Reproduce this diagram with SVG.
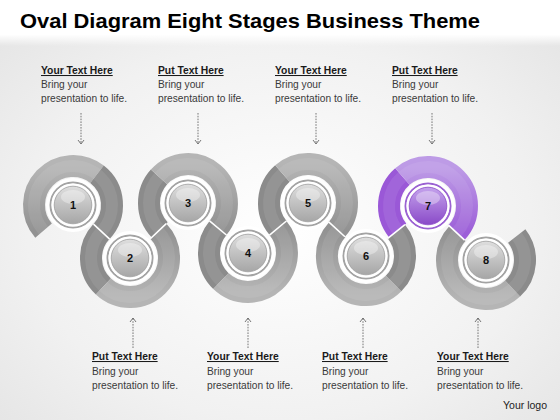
<svg xmlns="http://www.w3.org/2000/svg" width="560" height="420" viewBox="0 0 560 420">
<defs>
<radialGradient id="bg" cx="0.5" cy="0.55" r="0.75">
<stop offset="0" stop-color="#ffffff"/>
<stop offset="0.6" stop-color="#f1f1f1"/>
<stop offset="1" stop-color="#e2e2e2"/>
</radialGradient>
<linearGradient id="topband" x1="0" y1="0" x2="0" y2="1">
<stop offset="0" stop-color="#ffffff"/>
<stop offset="0.75" stop-color="#ffffff"/>
<stop offset="1" stop-color="#ffffff" stop-opacity="0"/>
</linearGradient>
<linearGradient id="lightUp" x1="0" y1="0" x2="0" y2="1">
<stop offset="0" stop-color="#b5b5b5"/>
<stop offset="1" stop-color="#929292"/>
</linearGradient>
<linearGradient id="lightDown" x1="0" y1="1" x2="0" y2="0">
<stop offset="0" stop-color="#b5b5b5"/>
<stop offset="1" stop-color="#929292"/>
</linearGradient>
<linearGradient id="purpUp" x1="0" y1="0" x2="0" y2="1">
<stop offset="0" stop-color="#bd9be6"/>
<stop offset="1" stop-color="#9c5fd8"/>
</linearGradient>
<linearGradient id="btn" x1="0" y1="0" x2="0" y2="1">
<stop offset="0" stop-color="#dedede"/>
<stop offset="1" stop-color="#a6a6a6"/>
</linearGradient>
<linearGradient id="btnP" x1="0" y1="0" x2="0" y2="1">
<stop offset="0" stop-color="#c4a2ec"/>
<stop offset="1" stop-color="#8a4ac8"/>
</linearGradient>
<marker id="ah" viewBox="-5 -4 6 8" refX="0" refY="0" markerWidth="6" markerHeight="8" markerUnits="userSpaceOnUse" orient="auto">
<path d="M-4,-3 L0,0 L-4,3" fill="none" stroke="#555" stroke-width="0.8"/>
</marker>
</defs>
<style>
.seg{fill:none;stroke-width:22;stroke-linecap:butt}
.dark{stroke:#8b8b8b}
.lu{stroke:url(#lightUp)}
.ld{stroke:url(#lightDown)}
.pd{stroke:#9a58d7}
.pl{stroke:url(#purpUp)}
.hl{fill:none;stroke:#ffffff;stroke-opacity:0.08;stroke-width:12}
.jn{stroke:#ffffff;stroke-width:1.6}
.gap{fill:#ffffff}
.rim{fill:none;stroke:#a3a3a3;stroke-width:2}
.rimP{fill:none;stroke:#9b62d2;stroke-width:2}
.wr{fill:none;stroke:#ffffff;stroke-width:2}
.disc{fill:url(#btn);stroke:#9d9d9d;stroke-width:0.8}
.discP{fill:url(#btnP);stroke:#8a4ac8;stroke-width:0.8}
.shine{fill:#ffffff;opacity:0.35}
.num{font-family:"Liberation Sans",Arial,sans-serif;font-weight:bold;font-size:11px;fill:#111;text-anchor:middle}
.ttl{font-family:"Liberation Sans",Arial,sans-serif;font-weight:bold;font-size:10.3px;fill:#1a1a1a;text-decoration:underline}
.body{font-family:"Liberation Sans",Arial,sans-serif;font-size:10.2px;fill:#3a3a3a}
.arr{fill:none;stroke:#555;stroke-width:0.8;stroke-dasharray:1.6 1.2}
</style>
<rect x="0" y="0" width="560" height="420" fill="url(#bg)"/>
<rect x="0" y="0" width="560" height="46" fill="url(#topband)"/>
<text x="20" y="28" font-family="'Liberation Sans',Arial,sans-serif" font-weight="bold" font-size="21" fill="#000" textLength="460" lengthAdjust="spacingAndGlyphs">Oval Diagram Eight Stages Business Theme</text>

<g id="connectors">
<path class="arr" d="M81,113 V144" marker-end="url(#ah)"/>
<path class="arr" d="M198,113 V144" marker-end="url(#ah)"/>
<path class="arr" d="M316,113 V144" marker-end="url(#ah)"/>
<path class="arr" d="M432,113 V144" marker-end="url(#ah)"/>
<path class="arr" d="M133,348 V318" marker-end="url(#ah)"/>
<path class="arr" d="M248,348 V318" marker-end="url(#ah)"/>
<path class="arr" d="M363,348 V318" marker-end="url(#ah)"/>
<path class="arr" d="M478,348 V318" marker-end="url(#ah)"/>
</g>

<g id="rings">
<path class="seg lu" d="M43.57,230.59 A39,39 0 0 1 97.01,174.27"/>
<path class="seg dark" d="M97.01,174.27 A39,39 0 0 1 101.57,231.55"/>
<path class="seg dark" d="M101.43,231.45 A39,39 0 0 0 103.40,286.52"/>
<path class="seg ld" d="M103.40,286.52 A39,39 0 0 0 158.29,231.15"/>
<path class="seg dark" d="M159.71,229.85 A39,39 0 0 1 159.02,176.90"/>
<path class="seg lu" d="M159.02,176.90 A39,39 0 0 1 217.96,227.96"/>
<path class="seg dark" d="M218.04,228.04 A39,39 0 0 0 220.91,281.05"/>
<path class="seg ld" d="M220.91,281.05 A39,39 0 0 0 277.96,228.04"/>
<path class="seg dark" d="M278.04,227.96 A39,39 0 0 1 282.41,173.57"/>
<path class="seg lu" d="M282.41,173.57 A39,39 0 0 1 336.80,229.30"/>
<path class="seg ld" d="M337.20,229.70 A39,39 0 0 0 393.58,283.58"/>
<path class="seg dark" d="M393.58,283.58 A39,39 0 0 0 396.35,231.51"/>
<path class="seg pd" d="M397.65,230.49 A39,39 0 0 1 402.41,176.57"/>
<path class="seg pl" d="M402.41,176.57 A39,39 0 0 1 456.52,232.60"/>
<path class="seg ld" d="M457.48,233.40 A39,39 0 0 0 512.60,288.52"/>
<path class="seg dark" d="M512.60,288.52 A39,39 0 0 0 516.73,235.99"/>
<path class="hl" d="M43.57,230.59 A39,39 0 1 1 101.57,231.55"/>
<path class="hl" d="M101.43,231.45 A39,39 0 1 0 158.29,231.15"/>
<path class="hl" d="M159.71,229.85 A39,39 0 1 1 217.96,227.96"/>
<path class="hl" d="M218.04,228.04 A39,39 0 1 0 277.96,228.04"/>
<path class="hl" d="M278.04,227.96 A39,39 0 1 1 336.80,229.30"/>
<path class="hl" d="M337.20,229.70 A39,39 0 1 0 396.35,231.51"/>
<path class="hl" d="M397.65,230.49 A39,39 0 1 1 456.52,232.60"/>
<path class="hl" d="M457.48,233.40 A39,39 0 1 0 516.73,235.99"/>
<line class="jn" x1="93.51" y1="224.06" x2="109.63" y2="239.04"/>
<line class="jn" x1="150.31" y1="238.72" x2="166.27" y2="223.58"/>
<line class="jn" x1="209.51" y1="220.92" x2="226.42" y2="235.0"/>
<line class="jn" x1="269.51" y1="235.08" x2="286.42" y2="221.0"/>
<line class="jn" x1="328.68" y1="221.88" x2="344.93" y2="236.72"/>
<line class="jn" x1="387.79" y1="238.42" x2="404.91" y2="224.60"/>
<line class="jn" x1="448.48" y1="225.10" x2="464.57" y2="240.10"/>
</g>

<g id="node1">
<circle class="gap" cx="73" cy="205" r="27"/>
<circle class="rim" cx="73" cy="205" r="22.5"/><circle class="wr" cx="73" cy="205" r="20.5"/>
<circle class="disc" cx="73" cy="205" r="18.8"/><ellipse class="shine" cx="73" cy="197" rx="12" ry="7"/>
<text class="num" x="73" y="209">1</text>
</g>
<g id="node2">
<circle class="gap" cx="130" cy="258" r="27"/>
<circle class="rim" cx="130" cy="258" r="22.5"/><circle class="wr" cx="130" cy="258" r="20.5"/>
<circle class="disc" cx="130" cy="258" r="18.8"/><ellipse class="shine" cx="130" cy="250" rx="12" ry="7"/>
<text class="num" x="130" y="262">2</text>
</g>
<g id="node3">
<circle class="gap" cx="188" cy="203" r="27"/>
<circle class="rim" cx="188" cy="203" r="22.5"/><circle class="wr" cx="188" cy="203" r="20.5"/>
<circle class="disc" cx="188" cy="203" r="18.8"/><ellipse class="shine" cx="188" cy="195" rx="12" ry="7"/>
<text class="num" x="188" y="207">3</text>
</g>
<g id="node4">
<circle class="gap" cx="248" cy="253" r="27"/>
<circle class="rim" cx="248" cy="253" r="22.5"/><circle class="wr" cx="248" cy="253" r="20.5"/>
<circle class="disc" cx="248" cy="253" r="18.8"/><ellipse class="shine" cx="248" cy="245" rx="12" ry="7"/>
<text class="num" x="248" y="257">4</text>
</g>
<g id="node5">
<circle class="gap" cx="308" cy="203" r="27"/>
<circle class="rim" cx="308" cy="203" r="22.5"/><circle class="wr" cx="308" cy="203" r="20.5"/>
<circle class="disc" cx="308" cy="203" r="18.8"/><ellipse class="shine" cx="308" cy="195" rx="12" ry="7"/>
<text class="num" x="308" y="207">5</text>
</g>
<g id="node6">
<circle class="gap" cx="366" cy="256" r="27"/>
<circle class="rim" cx="366" cy="256" r="22.5"/><circle class="wr" cx="366" cy="256" r="20.5"/>
<circle class="disc" cx="366" cy="256" r="18.8"/><ellipse class="shine" cx="366" cy="248" rx="12" ry="7"/>
<text class="num" x="366" y="260">6</text>
</g>
<g id="node7">
<circle class="gap" cx="428" cy="206" r="27"/>
<circle class="rimP" cx="428" cy="206" r="22.5"/><circle class="wr" cx="428" cy="206" r="20.5"/>
<circle class="discP" cx="428" cy="206" r="18.8"/><ellipse class="shine" cx="428" cy="198" rx="12" ry="7"/>
<text class="num" x="428" y="210">7</text>
</g>
<g id="node8">
<circle class="gap" cx="486" cy="260" r="27"/>
<circle class="rim" cx="486" cy="260" r="22.5"/><circle class="wr" cx="486" cy="260" r="20.5"/>
<circle class="disc" cx="486" cy="260" r="18.8"/><ellipse class="shine" cx="486" cy="252" rx="12" ry="7"/>
<text class="num" x="486" y="264">8</text>
</g>

<g id="label-top1"><text class="ttl" x="41" y="74">Your Text Here</text><text class="body" x="41" y="88">Bring your</text><text class="body" x="41" y="102">presentation to life.</text></g>
<g id="label-top2"><text class="ttl" x="158" y="74">Put Text Here</text><text class="body" x="158" y="88">Bring your</text><text class="body" x="158" y="102">presentation to life.</text></g>
<g id="label-top3"><text class="ttl" x="275" y="74">Your Text Here</text><text class="body" x="275" y="88">Bring your</text><text class="body" x="275" y="102">presentation to life.</text></g>
<g id="label-top4"><text class="ttl" x="392" y="74">Put Text Here</text><text class="body" x="392" y="88">Bring your</text><text class="body" x="392" y="102">presentation to life.</text></g>
<g id="label-bot1"><text class="ttl" x="92" y="360">Put Text Here</text><text class="body" x="92" y="375">Bring your</text><text class="body" x="92" y="389">presentation to life.</text></g>
<g id="label-bot2"><text class="ttl" x="207" y="360">Your Text Here</text><text class="body" x="207" y="375">Bring your</text><text class="body" x="207" y="389">presentation to life.</text></g>
<g id="label-bot3"><text class="ttl" x="322" y="360">Put Text Here</text><text class="body" x="322" y="375">Bring your</text><text class="body" x="322" y="389">presentation to life.</text></g>
<g id="label-bot4"><text class="ttl" x="437" y="360">Your Text Here</text><text class="body" x="437" y="375">Bring your</text><text class="body" x="437" y="389">presentation to life.</text></g>
<text x="503" y="409" font-family="'Liberation Sans',Arial,sans-serif" font-size="10.5" fill="#222">Your logo</text>
</svg>
